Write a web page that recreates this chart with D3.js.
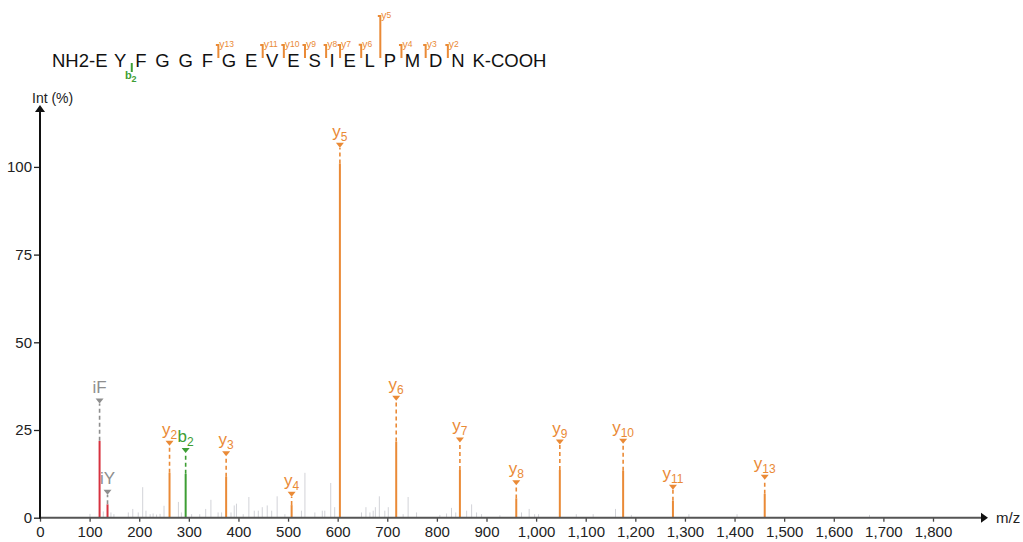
<!DOCTYPE html>
<html>
<head>
<meta charset="utf-8">
<script src="https://cdn.jsdelivr.net/npm/d3@7"></script>
<style>
  body { margin: 0; background: #fff; }
  svg { display: block; font-family: "Liberation Sans", Arial, sans-serif; }
</style>
</head>
<body>
<svg id="chart" width="1023" height="542"></svg>
<script>
// annotated fragment ions
var ionNames = ["iF", "iY", "y2", "b2", "y3", "y4", "y5", "y6", "y7", "y8", "y9", "y10", "y11", "y13"];
var ionMz = [120.1, 136.1, 261.1, 293.6, 375.2, 507.2, 604.5, 718.0, 846.4, 960.0, 1047.8, 1175.4, 1275.8, 1460.8];
var ionInt = [21.9, 3.8, 12.8, 12.5, 11.7, 3.6, 101, 21.7, 13.6, 5.5, 13.6, 13.4, 4.8, 6.8];
var ionLabelLevel = [33.4, 7.4, 21.4, 19.3, 18.4, 6.8, 106.3, 34.2, 22.3, 10.1, 21.7, 21.9, 8.8, 11.7];

// unannotated peaks (light gray)
var bgMz = [100.7, 127.6, 143, 149, 178, 187, 198, 207, 213.6, 222, 228, 235, 242, 250, 279, 285, 305.6, 322, 334,
  344.5, 359, 366, 385, 391.5, 396, 409.6, 421, 431.9, 440, 448, 458, 467, 478, 493.6, 527, 534, 554, 569, 574, 586,
  594, 648, 657, 665, 671.6, 676, 684, 695, 702, 732, 742, 759, 806, 819.5, 829.5, 838, 860, 870, 880, 890, 927,
  970.6, 986, 997, 1005, 1081, 1115, 1160, 1192, 1308, 1405, 1672];
var bgInt = [1.1, 1.8, 1.5, 1.0, 1.5, 2.5, 1.5, 8.7, 2.0, 1.0, 1.2, 0.9, 1.1, 3.4, 4.5, 1.5, 1.0, 1.0, 2.5,
  5.1, 1.5, 1.5, 1.5, 3.5, 4.0, 1.0, 5.9, 2.0, 2.0, 3.0, 3.5, 2.0, 6.1, 1.0, 2.0, 12.8, 1.5, 2.0, 2.0, 9.9,
  3.0, 1.5, 3.0, 1.5, 2.0, 3.0, 6.1, 2.0, 3.0, 1.0, 5.9, 1.5, 0.8, 1.2, 2.8, 1.5, 2.0, 3.8, 1.5, 1.0, 0.7,
  1.5, 2.5, 1.0, 1.0, 1.0, 1.0, 2.5, 0.8, 1.0, 1.0, 0.8];

var xTicks = d3.range(0, 1801, 100);
var yTicks = [0, 25, 50, 75, 100];

// peptide sequence, inner residues between the two termini
var nTerm = "NH2-E";
var residues = ["Y", "F", "G", "G", "F", "G", "E", "V", "E", "S", "I", "E", "L", "P", "M", "D", "N"];
var cTerm = "K-COOH";
// fragment markers: ion name and residue index after which the cleavage sits
var seqIonNames = ["b2", "y13", "y11", "y10", "y9", "y8", "y7", "y6", "y5", "y4", "y3", "y2"];
var seqIonSite = [0, 4, 6, 7, 8, 9, 10, 11, 12, 13, 14, 15];

var ORANGE = "#ea8a36", GREEN = "#3d9e34", RED = "#d7323f", GRAY = "#8e8e8e", LIGHT = "#d2d3d8";

function ionColor(name) {
  if (name[0] == "y") return ORANGE;
  if (name[0] == "b") return GREEN;
  return GRAY;
}

var svg = d3.select("#chart");

var x = d3.scaleLinear().domain([0, 1800]).range([40, 933]);
var y = d3.scaleLinear().domain([0, 100]).range([517.7, 166.9]);

// -- PEAKS

svg.append("g").selectAll("line")
  .data(d3.range(bgMz.length))
  .enter().append("line")
  .attr("x1", function(i) { return x(bgMz[i]); })
  .attr("x2", function(i) { return x(bgMz[i]); })
  .attr("y1", y(0))
  .attr("y2", function(i) { return y(bgInt[i]); })
  .attr("stroke", LIGHT)
  .attr("stroke-width", 1);

var ions = svg.append("g").selectAll("g")
  .data(d3.range(ionNames.length))
  .enter().append("g");

ions.append("line")
  .attr("x1", function(i) { return x(ionMz[i]); })
  .attr("x2", function(i) { return x(ionMz[i]); })
  .attr("y1", y(0))
  .attr("y2", function(i) { return y(ionInt[i]); })
  .attr("stroke", function(i) { return ionNames[i][0] == "i" ? RED : ionColor(ionNames[i]); })
  .attr("stroke-width", 2);

// dashed leader from bar top up to the triangle
ions.append("line")
  .attr("x1", function(i) { return x(ionMz[i]); })
  .attr("x2", function(i) { return x(ionMz[i]); })
  .attr("y1", function(i) { return y(ionInt[i]); })
  .attr("y2", function(i) { return y(ionLabelLevel[i]) + 3; })
  .attr("stroke", function(i) { return ionColor(ionNames[i]); })
  .attr("stroke-width", 1.6)
  .attr("stroke-dasharray", "4,3");

ions.append("path")
  .attr("d", function(i) {
    var cx = x(ionMz[i]), cy = y(ionLabelLevel[i]);
    return "M" + (cx - 4) + "," + (cy - 2) + "L" + (cx + 4) + "," + (cy - 2) + "L" + cx + "," + (cy + 3) + "Z";
  })
  .attr("fill", function(i) { return ionColor(ionNames[i]); });

var ionText = ions.append("text")
  .attr("x", function(i) { return x(ionMz[i]); })
  .attr("y", function(i) { return y(ionLabelLevel[i]) - 8; })
  .attr("text-anchor", "middle")
  .attr("font-size", 17)
  .attr("fill", function(i) { return ionColor(ionNames[i]); });

ionText.each(function(i) {
  var t = d3.select(this), name = ionNames[i];
  if (name[0] == "i") {
    t.text(name);
  } else {
    t.append("tspan").text(name[0]);
    t.append("tspan").attr("font-size", 12).attr("dy", 4).text(name.slice(1));
  }
});

// -- AXES

var xAxis = svg.append("g")
  .attr("transform", "translate(0," + y(0) + ")")
  .call(d3.axisBottom(x).tickValues(xTicks).tickSize(4).tickSizeOuter(0).tickFormat(d3.format(",")));
xAxis.select(".domain").remove();
xAxis.selectAll(".tick line").attr("stroke", "#444").attr("stroke-width", 1.3);
xAxis.selectAll(".tick text")
  .attr("y", 9)
  .attr("font-size", 15)
  .attr("font-family", "Liberation Sans, Arial, sans-serif")
  .attr("fill", "#222");

svg.append("line")
  .attr("x1", x(0)).attr("x2", 982)
  .attr("y1", y(0)).attr("y2", y(0))
  .attr("stroke", "#555").attr("stroke-width", 2);
svg.append("path")
  .attr("d", "M981," + (y(0) - 5) + "L988," + y(0) + "L981," + (y(0) + 5) + "Z")
  .attr("fill", "#111");
svg.append("text")
  .attr("x", 996).attr("y", y(0) + 5)
  .attr("font-size", 15).attr("fill", "#222")
  .text("m/z");

var yAxis = svg.append("g")
  .attr("transform", "translate(" + x(0) + ",0)")
  .call(d3.axisLeft(y).tickValues(yTicks).tickSize(6).tickPadding(2).tickSizeOuter(0));
yAxis.select(".domain").remove();
yAxis.selectAll(".tick line").attr("stroke", "#222").attr("stroke-width", 1.3);
yAxis.selectAll(".tick text")
  .attr("font-size", 15)
  .attr("font-family", "Liberation Sans, Arial, sans-serif")
  .attr("fill", "#222");

svg.append("line")
  .attr("x1", x(0)).attr("x2", x(0))
  .attr("y1", y(0) + 1).attr("y2", 111)
  .attr("stroke", "#111").attr("stroke-width", 2);
svg.append("path")
  .attr("d", "M" + (x(0) - 5) + ",112L" + x(0) + ",105L" + (x(0) + 5) + ",112Z")
  .attr("fill", "#111");
svg.append("text")
  .attr("x", 32).attr("y", 103)
  .attr("font-size", 14).attr("fill", "#222")
  .text("Int (%)");

// -- SEQUENCE MAP

var SEQ_BASE = 67, SEQ_GAP = 8.8, SEQ_SIZE = 18.5;
var seq = svg.append("g");

var nText = seq.append("text")
  .attr("x", 52).attr("y", SEQ_BASE)
  .attr("font-size", SEQ_SIZE).attr("fill", "#111")
  .text(nTerm);
var cursor = 52 + nText.node().getComputedTextLength() + 6.5;

var leftEdge = [], rightEdge = [];
residues.forEach(function(r, i) {
  var t = seq.append("text")
    .attr("x", cursor).attr("y", SEQ_BASE)
    .attr("font-size", SEQ_SIZE).attr("fill", "#111")
    .text(r);
  var w = t.node().getComputedTextLength();
  leftEdge.push(cursor);
  rightEdge.push(cursor + w);
  cursor += w + SEQ_GAP;
});
seq.append("text")
  .attr("x", cursor - 1).attr("y", SEQ_BASE)
  .attr("font-size", SEQ_SIZE).attr("fill", "#111")
  .text(cTerm);

// marker length grows with the peak intensity (base peak gets the tall one)
var markLen = d3.scalePow().exponent(3).domain([0, 100]).range([13, 42]).clamp(true);

seqIonNames.forEach(function(name, k) {
  var site = seqIonSite[k];
  var mx = (rightEdge[site] + leftEdge[site + 1]) / 2 + 1;
  var col = ionColor(name);
  var h = markLen(ionInt[ionNames.indexOf(name)]);
  if (name[0] == "y") {
    var bottom = 58, top = bottom - h;
    seq.append("path")
      .attr("d", "M" + (mx - 2.5) + "," + top + "L" + mx + "," + top + "L" + mx + "," + bottom)
      .attr("fill", "none").attr("stroke", col).attr("stroke-width", 2);
    var t = seq.append("text")
      .attr("x", mx + 1).attr("y", top + 3)
      .attr("font-size", 10.5).attr("fill", col);
    t.append("tspan").text("y");
    t.append("tspan").attr("font-size", 8.5).attr("dy", -1).text(name.slice(1));
  } else {
    seq.append("line")
      .attr("x1", mx).attr("x2", mx)
      .attr("y1", 63).attr("y2", 72)
      .attr("stroke", col).attr("stroke-width", 2);
    var tb = seq.append("text")
      .attr("x", mx - 1).attr("y", 79)
      .attr("text-anchor", "middle")
      .attr("font-size", 11).attr("font-weight", "bold").attr("fill", col);
    tb.append("tspan").text("b");
    tb.append("tspan").attr("font-size", 9).attr("dy", 3).text(name.slice(1));
  }
});
</script>
</body>
</html>
